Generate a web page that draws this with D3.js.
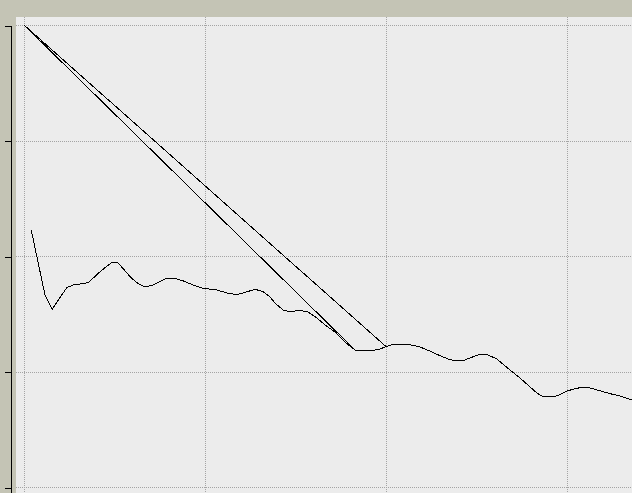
<!DOCTYPE html>
<html>
<head>
<meta charset="utf-8">
<script src="https://cdn.jsdelivr.net/npm/d3@7"></script>
<style>
  html, body { margin: 0; padding: 0; background: #c4c4b5; }
  svg { display: block; }
</style>
</head>
<body>
<svg width="632" height="493"></svg>
<script>
// x and y values of the trace, in plot order (the trace jumps back to the start once)
var xValues = [0.40, 1.16, 1.56, 2.36, 2.72, 3.55, 4.20, 4.85, 5.21, 5.86, 6.23, 6.69, 7.14, 7.79, 8.34, 8.80,
               9.35, 9.91, 10.65, 11.29, 11.75, 12.12, 12.76, 13.22, 13.59, 13.87, 14.31, 14.70, 15.25, 15.69,
               16.19, 16.63, 17.18, 17.73, 18.29, 18.84, 19.39, 19.67, 20.00,
               0.00,
               18.29, 18.84, 19.39, 19.67, 20.00,
               20.33, 20.77, 21.33, 21.88, 22.43, 22.98, 23.54, 24.03, 24.36, 24.92, 25.30, 25.64, 26.13, 26.85,
               27.40, 27.96, 28.34, 28.67, 29.23, 29.61, 30.00, 30.44, 30.83, 31.27, 31.82, 32.38, 32.93, 33.59, 34.03];
var yValues = [22.25, 16.62, 15.39, 17.26, 17.49, 17.69, 18.64, 19.45, 19.39, 18.21, 17.69, 17.32, 17.49, 18.01, 18.07, 17.84,
               17.49, 17.20, 17.06, 16.77, 16.65, 16.80, 17.12, 16.91, 16.45, 15.93, 15.32, 15.18, 15.30, 15.15,
               14.63, 14.03, 13.42, 12.55, 11.86, 11.77, 11.86, 11.95, 12.16,
               40.00,
               11.86, 11.77, 11.86, 11.95, 12.16,
               12.32, 12.34, 12.32, 12.12, 11.77, 11.37, 11.02, 10.91, 11.00, 11.34, 11.52, 11.43, 11.08, 10.13,
               9.44, 8.66, 8.14, 7.82, 7.79, 7.99, 8.31, 8.51, 8.63, 8.57, 8.34, 8.08, 7.88, 7.53, 7.27];
var xTicks = [0, 10, 20, 30];
var yTicks = [0, 10, 20, 30, 40];

var svg = d3.select("svg"),
    width = +svg.attr("width"),
    height = +svg.attr("height"),
    plotLeft = 16,
    plotTop = 17;

var xScale = d3.scaleLinear().domain([0, 30]).range([24, 567]);
var yScale = d3.scaleLinear().domain([0, 40]).range([487, 25]);

// backdrop
svg.append("rect").attr("width", width).attr("height", height).attr("fill", "#c4c4b5");
svg.append("rect")
   .attr("x", plotLeft).attr("y", plotTop)
   .attr("width", width - plotLeft).attr("height", height - plotTop)
   .attr("fill", "#ececec");

// dotted grid
var grid = svg.append("g").attr("stroke", "#a4a4a4").attr("stroke-dasharray", "1,1").attr("shape-rendering", "crispEdges");
grid.selectAll(".gx").data(xTicks).enter().append("line")
    .attr("x1", function(d) { return Math.round(xScale(d)) + 0.5; })
    .attr("x2", function(d) { return Math.round(xScale(d)) + 0.5; })
    .attr("y1", plotTop).attr("y2", height);
grid.selectAll(".gy").data(yTicks).enter().append("line")
    .attr("y1", function(d) { return Math.round(yScale(d)) + 0.5; })
    .attr("y2", function(d) { return Math.round(yScale(d)) + 0.5; })
    .attr("x1", plotLeft).attr("x2", width);

// left axis, no labels
var axis = svg.append("g")
    .attr("transform", "translate(11.5,0.5)")
    .attr("shape-rendering", "crispEdges")
    .call(d3.axisLeft(yScale).tickValues(yTicks).tickSize(7).tickSizeOuter(0).tickFormat(""));
axis.select(".domain").remove();
axis.selectAll(".tick line").attr("stroke", "#000");
axis.append("line")
    .attr("x1", 0).attr("x2", 0)
    .attr("y1", yScale(40)).attr("y2", height)
    .attr("stroke", "#000");

// the trace
svg.append("clipPath").attr("id", "plotclip")
   .append("rect").attr("x", plotLeft).attr("y", plotTop).attr("width", width - plotLeft).attr("height", height - plotTop);

var line = d3.line()
    .x(function(d, i) { return xScale(xValues[i]); })
    .y(function(d, i) { return yScale(yValues[i]); });

svg.append("path")
   .datum(xValues)
   .attr("clip-path", "url(#plotclip)")
   .attr("fill", "none")
   .attr("stroke", "#000")
   .attr("stroke-width", 1)
   .attr("shape-rendering", "crispEdges")
   .attr("d", line);
</script>
</body>
</html>
